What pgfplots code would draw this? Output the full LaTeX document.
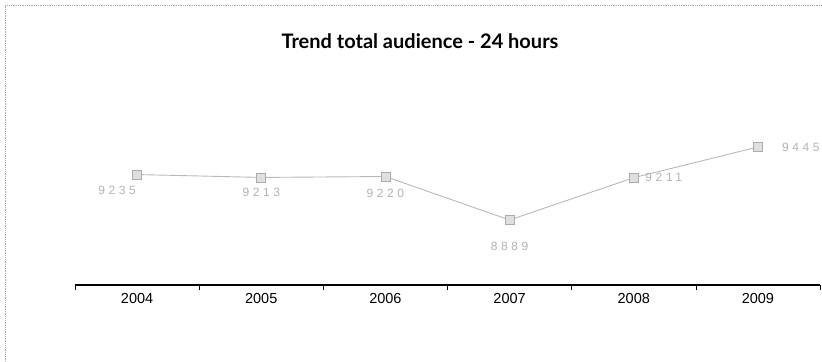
\documentclass[border=0pt]{standalone}
\usepackage{fontspec}
\setmainfont{Liberation Sans}
\newfontfamily\titlefont{Lato}
\newfontfamily\lblfont[LetterSpace=30]{Liberation Sans}
\usepackage{pgfplots}
\usepackage{pgfplotstable}
\pgfplotsset{compat=1.18}
\pgfplotstableread{
x y lab dx dy
0 9235 9235 -20 -16
1 9213 9213 0 -15
2 9220 9220 0 -17
3 8889 8889 0 -26
4 9211 9211 30 0
5 9445 9445 43 0
}\audience
\begin{document}
\begin{tikzpicture}
\path[use as bounding box] (0,0) rectangle (822bp,362bp);
\draw[gray!70, densely dotted, line width=0.8bp] (5bp,0) -- (5bp,357bp) -- (822bp,357bp);
\node[font=\titlefont\bfseries\fontsize{20bp}{23bp}\selectfont] at (420bp,321bp) {Trend total audience - 24 hours};
\begin{axis}[
  at={(75bp,77bp)}, anchor=south west,
  scale only axis, width=745bp, height=215bp,
  xmin=-0.5, xmax=5.5, ymin=8394, ymax=10031,
  axis x line=bottom, axis y line=none,
  axis line style={black, line width=1.1bp, -},
  xtick={0,1,2,3,4,5},
  xticklabels={2004,2005,2006,2007,2008,2009},
  major tick length=0pt,
  minor xtick={-0.5,0.5,1.5,2.5,3.5,4.5,5.5},
  minor tick length=5bp,
  tick align=outside,
  minor tick style={black, line width=0.6bp},
  xticklabel style={font=\fontsize{14.5bp}{16bp}\selectfont, yshift=-5bp},
  clip=false,
]
\addplot[gray!55, line width=0.9bp, mark=square*, mark size=4.5bp,
  mark options={fill=gray!25, draw=gray!65, line width=0.6bp},
  visualization depends on={\thisrow{dx} \as \dx},
  visualization depends on={\thisrow{dy} \as \dy},
  nodes near coords,
  point meta=explicit symbolic,
  nodes near coords style={anchor=center, xshift=\dx bp, yshift=\dy bp,
    font=\lblfont\fontsize{12bp}{14bp}\selectfont, text=gray!60},
] table[x=x, y=y, meta=lab] {\audience};
\end{axis}
\end{tikzpicture}
\end{document}
